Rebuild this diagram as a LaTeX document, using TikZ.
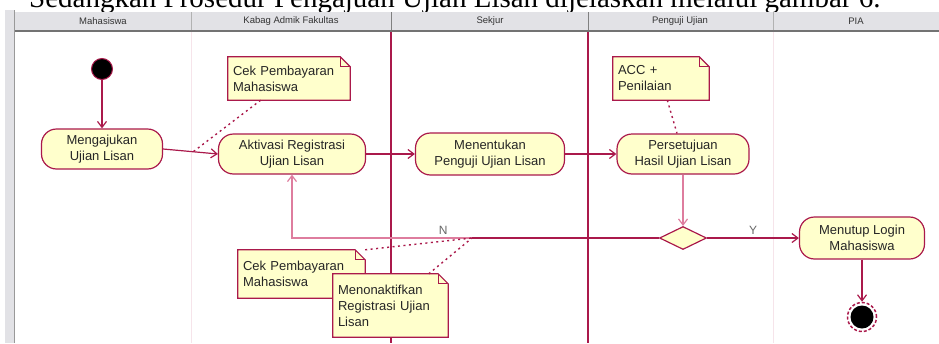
\documentclass[tikz,border=0pt]{standalone}
\usepackage{fontspec}
\setmainfont{Liberation Serif}
\setsansfont{Liberation Sans}
\usepackage{tikz}
\usetikzlibrary{shapes.geometric,arrows.meta,backgrounds}
\definecolor{umlred}{RGB}{170,25,75}
\definecolor{umlpink}{RGB}{222,125,158}
\definecolor{umlfaint}{RGB}{246,228,234}
\definecolor{umlyellow}{RGB}{255,255,204}
\definecolor{hdrgray}{RGB}{226,226,230}

\tikzset{
  actbox/.style={rectangle, rounded corners=15pt, draw=umlred, line width=1.2pt, fill=umlyellow, minimum height=40pt, align=center, text=black!85},
  notebox/.style={rectangle, inner xsep=5pt, align=left, text=black!85},
  noteline/.style={draw=umlred, fill=umlyellow, line width=1.2pt},
  notelink/.style={umlred, line width=1.4pt, dash pattern=on 2pt off 3.5pt},
  flow/.style={->, umlred, line width=1.2pt},
  guard/.style={text=black!60, font=\sffamily\fontsize{12}{14}\selectfont},
  lanehead/.style={text=black!80, font=\sffamily\fontsize{9.5}{11}\selectfont}
}

\begin{document}
\begin{tikzpicture}[x=1pt, y=-1pt, >={Straight Barb[length=6pt,width=9pt]}, font=\sffamily\fontsize{13}{16}\selectfont]
    \useasboundingbox (0,0) rectangle (939,343);

    % Define nodes
    \node [circle, fill=black, draw=umlred, line width=1pt, minimum size=21pt, inner sep=0pt] (start) at (102,69) {};
    \node [actbox, minimum width=121pt] (ajukan) at (102,149) {Mengajukan\\Ujian Lisan};
    \node [actbox, minimum width=147pt] (aktivasi) at (292,154) {Aktivasi Registrasi\\Ujian Lisan};
    \node [actbox, minimum width=149pt, minimum height=42pt] (tentukan) at (490,154) {Menentukan\\Penguji Ujian Lisan};
    \node [actbox, minimum width=132pt] (setuju) at (683,154) {Persetujuan\\Hasil Ujian Lisan};
    \node [diamond, aspect=2, draw=umlred, line width=1.2pt, fill=umlyellow, minimum width=47pt, minimum height=23pt, inner sep=0pt] (cek) at (683,238) {};
    \node [actbox, minimum width=125pt, minimum height=42pt] (tutup) at (862,238) {Menutup Login\\Mahasiswa};
    \node [circle, draw=umlred, densely dashed, line width=1.5pt, minimum size=29pt, inner sep=0pt,
           path picture={\fill[black] (path picture bounding box.center) circle (11.5pt);}] (end) at (862,317) {};

    % Define notes
    \node [notebox, text width=112pt, minimum height=43pt] (notea) at (289,78.5) {Cek Pembayaran\\Mahasiswa};
    \node [notebox, text width=86pt, minimum height=43pt] (noteb) at (661,78.5) {ACC +\\Penilaian};
    \node [notebox, text width=117pt, minimum height=48pt] (notec) at (301.5,274) {Cek Pembayaran\\Mahasiswa};
    \node [notebox, text width=105pt, minimum height=63pt] (noted) at (390.5,305.5) {Menonaktifkan\\Registrasi Ujian\\Lisan};

    % Swimlane titles
    \node [lanehead] (lmhs) at (103,21) {Mahasiswa};
    \node [lanehead] (lkabag) at (291,21) {Kabag Admik Fakultas};
    \node [lanehead] (lsekjur) at (490,21) {Sekjur};
    \node [lanehead] (lpenguji) at (680,21) {Penguji Ujian};
    \node [lanehead] (lpia) at (856,21) {PIA};

    % Define arrows
    \draw[flow] (start) -- (ajukan);
    \draw[flow] (ajukan.east) -- coordinate[pos=0.55] (ta) (aktivasi.west);
    \draw[flow] (aktivasi) -- (tentukan);
    \draw[flow] (tentukan) -- (setuju);
    \draw[flow, umlpink] (setuju) -- (cek);
    \draw[flow] (cek) -- node[guard, above] {Y} (tutup);
    \draw[flow] (tutup) -- (end);
    \coordinate (tn) at (472,238);
    \draw[umlred, line width=1.2pt] (cek.west) -- (tn);
    \draw[flow, umlpink] (tn) -| node[guard, above, pos=0.08] {N} (aktivasi.south);

    % Note links
    \draw[notelink] (notea) -- (ta);
    \draw[notelink] (noteb) -- (setuju);
    \draw[notelink] (notec.north east) -- (tn);
    \draw[notelink] (noted) -- (tn);

    \begin{scope}[on background layer]
        % caption above the picture, cut at the top
        \begin{scope}
            \clip (0,0) rectangle (939,343);
            \node [anchor=base west, inner sep=0pt, text=black, font=\rmfamily\fontsize{29}{32}\selectfont] (caption) at (29,7.5) {Sedangkan Prosedur Pengajuan Ujian Lisan dijelaskan melalui gambar 6.};
        \end{scope}
        % window frame and header
        \fill[hdrgray] (5,10) rectangle (14,343);
        \draw[black!40, line width=1.5pt] (14.5,10) -- (14.5,343);
        \fill[hdrgray] (15,12) rectangle (939,30);
        \draw[black!55, line width=2.5pt] (15,31) -- (939,31);
        \foreach \x/\c in {191/black!30, 391/black!50, 588/black!50, 773/black!30}
            \draw[\c, line width=1pt] (\x,12) -- (\x,30);
        % swimlanes
        \foreach \x in {191,773}
            \draw[umlfaint, line width=1pt] (\x,32) -- (\x,343);
        \foreach \x in {391,588}
            \draw[umlred, line width=2pt] (\x,32) -- (\x,343);
        % note outlines with folded corner
        \foreach \n in {notea,noteb,notec,noted} {
            \filldraw[noteline] (\n.north west) -- ([xshift=-10pt]\n.north east) -- ([yshift=-10pt]\n.north east) -- (\n.south east) -- (\n.south west) -- cycle;
            \draw[noteline, fill=none] ([xshift=-10pt]\n.north east) |- ([yshift=-10pt]\n.north east);
        }
    \end{scope}

\end{tikzpicture}
\end{document}
